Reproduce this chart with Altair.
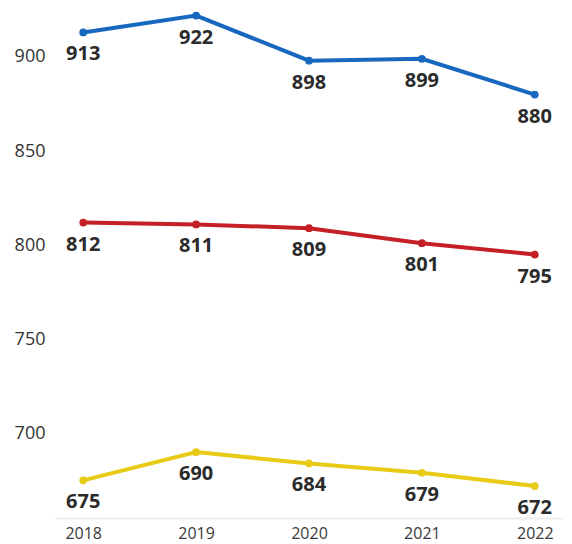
import altair as alt
import pandas as pd

years = ["2018", "2019", "2020", "2021", "2022"]
blue_vals = [913, 922, 898, 899, 880]
red_vals = [812, 811, 809, 801, 795]
yellow_vals = [675, 690, 684, 679, 672]
series_names = ["Blue", "Red", "Yellow"]
series_colors = ["#1868c0", "#c42026", "#e8cb17"]

rows = []
for name, vals in zip(series_names, [blue_vals, red_vals, yellow_vals]):
    for y, v in zip(years, vals):
        rows.append({"year": y, "value": v, "series": name})
df = pd.DataFrame(rows)

x = alt.X("year:O", scale=alt.Scale(type="point", padding=0.25),
          axis=alt.Axis(title=None, labelAngle=0, ticks=False, domain=True,
                        domainColor="#ececec", domainWidth=2, labelPadding=7,
                        labelFontSize=16, labelColor="#3a3a3a", labelFont="Open Sans",
                        grid=False))
y = alt.Y("value:Q", scale=alt.Scale(domain=[655, 926], nice=False, zero=False),
          axis=alt.Axis(title=None, values=[700, 750, 800, 850, 900], ticks=False,
                        domain=False, grid=False, labelPadding=10, labelFontSize=18,
                        labelColor="#333333", labelFont="Open Sans"))
color = alt.Color("series:N", scale=alt.Scale(domain=series_names, range=series_colors),
                  legend=None)

base = alt.Chart(df).encode(x=x, y=y)
lines = base.mark_line(strokeWidth=4).encode(color=color)
points = base.mark_point(filled=True, size=60, opacity=1).encode(color=color)
labels = base.mark_text(dy=22, fontSize=20, fontWeight="bold", font="Open Sans",
                        color="#2b2b2b").encode(text="value:Q")

chart = (lines + points + labels).properties(
    width=508, height=510,
    autosize=alt.AutoSizeParams(type="none"),
    padding={"left": 47, "top": 0, "right": 1, "bottom": 26},
).configure_view(stroke=None)

chart.save("out.html", embed_options={"renderer": "svg", "actions": False})
